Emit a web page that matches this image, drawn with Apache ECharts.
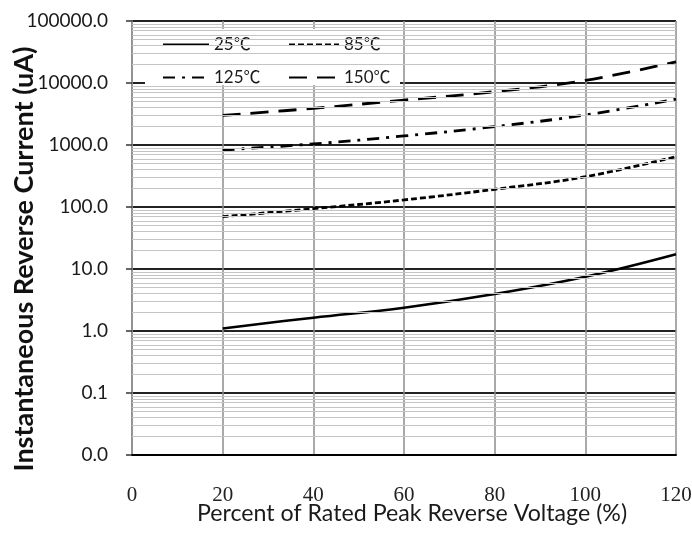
<!DOCTYPE html>
<html>
<head>
<meta charset="utf-8">
<script src="https://cdn.jsdelivr.net/npm/echarts@6/dist/echarts.min.js"></script>
<style>
html,body{margin:0;padding:0;background:#fff;}
#chart{width:692px;height:533px;}
</style>
</head>
<body>
<div id="chart"></div>
<script>
// ---- data ----
const xValues = [20, 40, 60, 80, 100, 120];
const current25 = [1.1, 1.64, 2.38, 3.95, 7.5, 17.3];
const current85 = [70, 94, 130, 193, 308, 648];
const current125 = [830, 1040, 1400, 1980, 3050, 5500];
const current150 = [3000, 3900, 5300, 7250, 11000, 22000];
const seriesNames = ['25\u2103', '85\u2103', '125\u2103', '150\u2103'];
const yMin = 0.01, yMax = 100000;
const xTickLabels = ['0', '20', '40', '60', '80', '100', '120'];
const minorMultipliers = [2, 3, 4, 5, 6, 7, 8, 9];

const pairs = arr => xValues.map((x, i) => [x, arr[i]]);

// minor log grid lines (2..9 x 10^k)
const minorLines = [];
for (let e = Math.log10(yMin); e < Math.log10(yMax); e++) {
  minorMultipliers.forEach(m => minorLines.push({ yAxis: +(m * Math.pow(10, e)).toPrecision(6) }));
}

const chart = echarts.init(document.getElementById('chart'));
const baseLine = { smooth: 0.4, symbol: 'none', showSymbol: false, z: 2 };
const legendBase = {
  orient: 'vertical', top: 36, padding: 0, itemGap: 16, itemHeight: 14,
  itemStyle: { opacity: 0, borderWidth: 0 },
  textStyle: { fontFamily: 'Lato, "Noto Sans CJK SC"', fontSize: 17, color: '#1a1a1a', lineHeight: 14 },
  z: 5
};
chart.setOption({
  animation: false,
  backgroundColor: '#fff',
  grid: { left: 132, right: 16, top: 21, bottom: 78, containLabel: false, outerBoundsMode: 'none' },
  xAxis: {
    type: 'value', min: 0, max: 120, interval: 20,
    name: 'Percent of Rated Peak Reverse Voltage (%)',
    nameLocation: 'middle', nameGap: 47, nameMoveOverlap: false,
    nameTextStyle: { fontFamily: 'Lato', fontSize: 23.2, color: '#1a1a1a', padding: [0, 0, 0, 16] },
    axisLine: { show: true, lineStyle: { color: '#000', width: 2 } },
    axisTick: { show: false },
    axisLabel: {
      margin: 30, fontFamily: 'Liberation Serif', fontSize: 21, color: '#222',
      formatter: v => xTickLabels[Math.round(v / 20)]
    },
    splitLine: { show: true, lineStyle: { color: '#8c8c8c', width: 1.5 } }
  },
  yAxis: {
    type: 'log', logBase: 10, min: yMin, max: yMax,
    axisLine: { show: true, lineStyle: { color: '#8c8c8c', width: 1.5 } },
    axisTick: { show: true, length: 6, lineStyle: { color: '#333', width: 1.5 } },
    axisLabel: {
      margin: 24, fontFamily: 'Lato', fontSize: 19, color: '#1a1a1a',
      formatter: v => Number(v).toFixed(1)
    },
    splitLine: { show: true, lineStyle: { color: '#222', width: 2 } }
  },
  legend: [
    Object.assign({ data: [seriesNames[0], seriesNames[2]], left: 162, itemWidth: 46 }, legendBase),
    Object.assign({ data: [seriesNames[1], seriesNames[3]], left: 288, itemWidth: 50 }, legendBase)
  ],
  graphic: [
    { type: 'rect', z: 3, shape: { x: 145, y: 29, width: 255, height: 56 }, style: { fill: '#fff' } },
    {
      type: 'text', x: 24, y: 259, rotation: Math.PI / 2, z: 3,
      style: {
        text: 'Instantaneous Reverse Current (uA)', fontFamily: 'Lato', fontWeight: 'bold',
        fontSize: 27, fill: '#111', align: 'center', verticalAlign: 'middle'
      }
    }
  ],
  series: [
    {
      name: 'minor', type: 'line', data: [], silent: true, z: 1,
      markLine: {
        silent: true, symbol: 'none', label: { show: false },
        lineStyle: { color: '#c4c4c4', width: 1, type: 'solid' },
        emphasis: { disabled: true },
        data: minorLines
      }
    },
    Object.assign({ name: seriesNames[0], type: 'line', data: pairs(current25),
      lineStyle: { color: '#000', width: 2.5, type: 'solid' }, itemStyle: { color: '#000' } }, baseLine),
    Object.assign({ name: seriesNames[1], type: 'line', data: pairs(current85),
      lineStyle: { color: '#000', width: 2.8, type: [6, 3] }, itemStyle: { color: '#000' } }, baseLine),
    Object.assign({ name: seriesNames[2], type: 'line', data: pairs(current125),
      lineStyle: { color: '#000', width: 2.8, type: [12, 7, 3, 7] }, itemStyle: { color: '#000' } }, baseLine),
    Object.assign({ name: seriesNames[3], type: 'line', data: pairs(current150),
      lineStyle: { color: '#000', width: 2.8, type: [18, 10] }, itemStyle: { color: '#000' } }, baseLine)
  ]
});
</script>
</body>
</html>
